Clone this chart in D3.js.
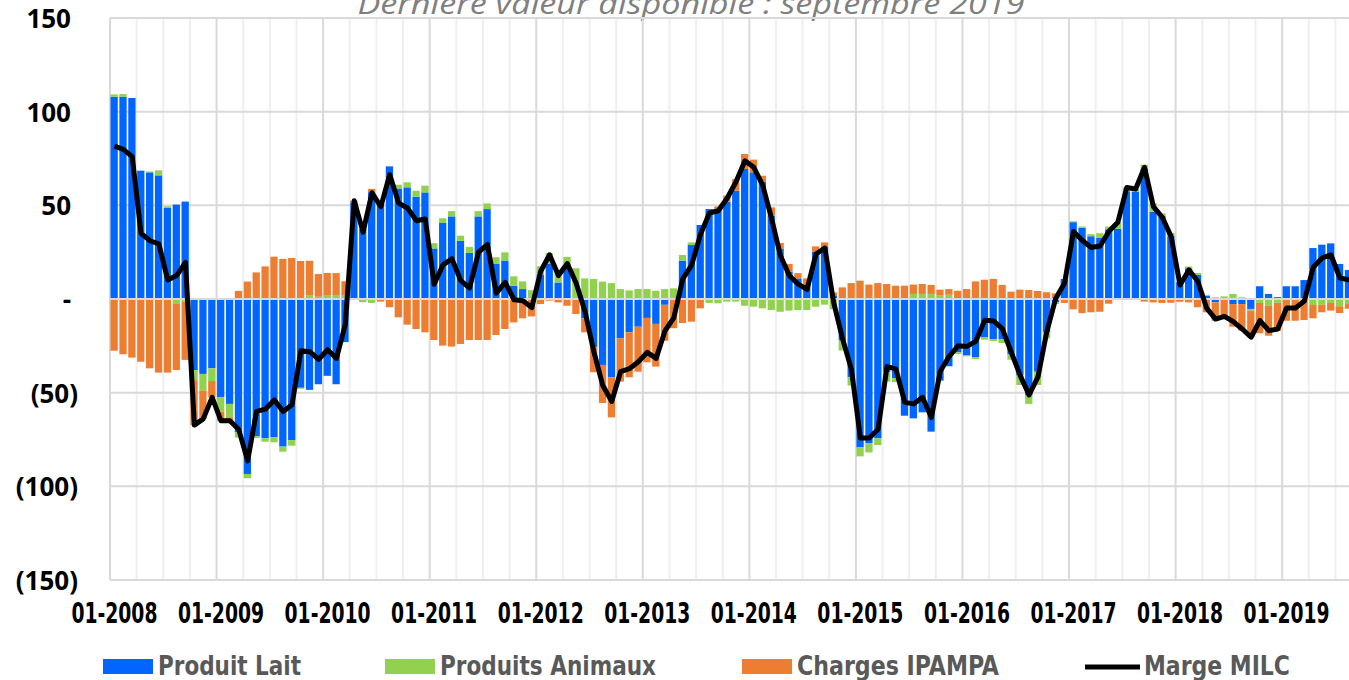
<!DOCTYPE html>
<html>
<head>
<meta charset="utf-8">
<script src="https://cdn.jsdelivr.net/npm/d3@7/dist/d3.min.js"></script>
<style>
  body { margin: 0; background: #fff; }
  svg { display: block; }
  .ylab text { font-family: "Open Sans", sans-serif; font-weight: 700; font-size: 26px; fill: #000; }
  .xlab text { font-family: "Liberation Sans Narrow", "DejaVu Sans Condensed", sans-serif; font-weight: 700; font-size: 28px; fill: #000; }
  .leg { font-family: "Liberation Sans Narrow", "DejaVu Sans Condensed", sans-serif; font-weight: 700; font-size: 26px; fill: #595959; }
  .title { font-family: "Open Sans", sans-serif; font-style: italic; font-size: 29px; fill: #7f7f7f; }
</style>
</head>
<body>
<svg id="chart" width="1349" height="680"></svg>
<script>
'use strict';

/* Data : janvier 2008 -> septembre 2019 (mensuel) */

var months = d3.timeMonth.range(new Date(2008, 0, 1), new Date(2019, 9, 1));

// Produit Lait
var lait = [
  108, 108, 107.3, 68.5, 67.6, 66, 48.6, 50.4, 52, -38, -40, -37,
  -52.5, -56, -71, -93.4, -73.3, -74.4, -73.8, -78.8, -75.3, -47.4, -48.5, -45.5,
  -41, -45.5, -23, 51.5, 37.4, 57, 50.7, 70.8, 59, 59.6, 54.6, 56.9,
  27, 40.6, 44.1, 31, 24.6, 44.1, 48, 18.7, 20.5, 7.1, 5.3, 0.3,
  13, 18.7, 8.8, 17.5, 0, -10.3, -25.8, -35.2, -41.8, -21, -17.8, -14.8,
  -10.1, -13.3, -3.1, -0.5, 20.5, 28.8, 39.5, 48, 48.2, 52, 57.8, 69.4,
  67.6, 62.6, 44.5, 26.7, 14.6, 11, 7.1, 25.3, 28.1, 2, -22.2, -41.8,
  -79.2, -76.9, -74.4, -39.1, -42.3, -62.3, -63.7, -60.5, -70.8, -43.6, -35.9, -28.5,
  -29.9, -31.1, -20.5, -21.4, -21.4, -29.4, -40.9, -51.6, -38.8, -17.8, -1.8, 10.7,
  41, 38, 33.5, 32.6, 37.2, 37.4, 57.5, 57.3, 69.4, 46.6, 44.5, 33.5,
  9, 16.4, 12.8, 1.8, -1.8, 0, -2.7, -2.7, -5.3, 6.8, 2.7, 1,
  6.8, 6.8, 10.1, 27.2, 29, 29.7, 18.7, 15.5, 14
];

// Produits Animaux
var animaux = [
  1.2, 1.4, 0, 0, 0.5, 2.7, 0.9, -2.3, -1.5, -5.3, -8.9, -6.8,
  -7.7, -7.1, -3, -2.3, -0.9, -1.8, -2.7, -2.7, -3, -0.5, 2.1, 1.2,
  1.8, 2.1, 1.8, 0, -1.2, -2.1, 0, 0, 2, 2.7, 3.2, 3.6,
  2.8, 2.5, 2.8, 2.8, 3.2, 2.8, 3, 3.6, 4.4, 5, 4.1, 4.4,
  4.5, 5.8, 5.5, 5, 16.4, 11, 10.7, 9.3, 8.5, 5.3, 4.6, 5.3,
  5.3, 4.4, 5.3, 5.7, 3, 1.4, 0, -2.1, -2.3, -1.4, -1.4, -3.6,
  -4.1, -5, -5.9, -6.8, -6.2, -5.9, -5.9, -4.1, -3, -5.5, -5.3, -4.4,
  -4.8, -5, -3.6, -5, -2.1, 0, 2.7, 2.7, 2.7, 1.8, 2.3, -0.9,
  -0.7, -0.9, -1.2, -1, -2.1, -3, -5, -4.4, -7.1, -3.2, -0.9, 0,
  0.5, 0.7, 1.1, 2.5, 1.5, 3.6, 2, 1.4, 2.3, 4.5, 1.2, 1.8,
  0, 0.9, 1.1, 0.4, 0.9, 1.4, 2.7, 0.9, -0.9, -2.1, -3.6, -2,
  0, 0, 0, -3.2, -3, -2.1, -3.9, -2.7, -2.5
];

// Charges IPAMPA
var charges = [
  -27.6, -29.5, -31.3, -33.5, -37, -39.3, -39.3, -35.6, -31, -24, -15.1, -8.7,
  -4.8, -1.9, 4.3, 9.3, 14.2, 17.4, 22.6, 21.4, 21.9, 20.3, 18.3, 12.1,
  12.1, 11.7, 7.7, 1, -0.5, 1.8, -1.4, -4.4, -9.8, -13.7, -16, -17.8,
  -21.9, -24.9, -25.4, -24, -21.9, -21.9, -21.9, -19.2, -16, -12.5, -10.3, -9.3,
  -2.7, -0.9, -1.8, -3.6, -8, -7.5, -13.3, -20.3, -21.4, -23.1, -24, -24,
  -23.7, -22.8, -19.2, -15.1, -12.8, -12.1, -5, 0, 1.2, 3.2, 6.2, 8,
  6.8, 3.2, 4.4, 3.2, 4.1, 2.8, 3.9, 2.8, 2.1, 1.5, 6.2, 8.5,
  9.8, 7.7, 8.5, 8, 7.1, 7.1, 5, 5.3, 4.8, 3.2, 3, 4.4,
  5.3, 9.4, 10.3, 10.7, 7.5, 3.9, 5, 4.8, 4.3, 3.6, 3, -2.1,
  -5.5, -7.5, -7.1, -6.8, -2.5, 0, 0, 0, -1.4, -1.8, -2.1, -2,
  -1.5, -1.8, -4.4, -7.1, -9.8, -10.7, -12.1, -14.2, -14.2, -16.2, -16, -15,
  -11.6, -11.6, -11.2, -7.1, -4.1, -4.1, -3.6, -2.5, -2
];

// Marge MILC
var marge = [
  81.6, 79.9, 76, 35, 31.1, 29.4, 10.2, 12.5, 19.5, -67.3, -64, -52.5,
  -65, -65, -69.7, -86.4, -60, -58.8, -53.9, -60.1, -56.4, -27.6, -28.1, -32.2,
  -27.1, -31.7, -13.5, 52.5, 35.7, 56.7, 49.3, 66.4, 51.2, 48.6, 41.8, 42.7,
  7.9, 18.2, 21.5, 9.8, 5.9, 25, 29.1, 3.1, 8.9, -0.4, -0.9, -4.6,
  14.8, 23.6, 12.5, 18.9, 8.4, -6.8, -28.4, -46.2, -54.7, -38.8, -37.2, -33.5,
  -28.5, -31.7, -17, -9.9, 10.7, 18.1, 34.5, 45.9, 47.1, 53.8, 62.6, 73.8,
  70.3, 60.8, 43, 23.1, 12.5, 7.9, 5.1, 24, 27.2, -2, -21.3, -37.7,
  -74.2, -74.2, -69.5, -36.1, -37.3, -55.2, -56, -52.5, -63.3, -38.6, -30.6, -25,
  -25.3, -22.6, -11.4, -11.7, -16, -28.5, -40.9, -51.2, -41.6, -17.4, 0.3, 8.6,
  36, 31.2, 27.5, 28.3, 36.2, 41, 59.5, 58.7, 70.3, 49.3, 43.6, 33.3,
  7.5, 15.5, 9.5, -4.9, -10.7, -9.3, -12.1, -16, -20.4, -11.5, -16.9, -16,
  -4.8, -4.8, -1.1, 16.9, 21.9, 23.5, 11.2, 10.3, 9.5
];

var yTicks = [150, 100, 50, 0, -50, -100, -150];
var yTickLabels = ['150', '100', '50', '-', '(50)', '(100)', '(150)'];
var xTickLabels = ['01-2008', '01-2009', '01-2010', '01-2011', '01-2012', '01-2013',
  '01-2014', '01-2015', '01-2016', '01-2017', '01-2018', '01-2019'];

var seriesNames = ['Produit Lait', 'Produits Animaux', 'Charges IPAMPA'];
var colors = ['#0066ff', '#92d050', '#ed7d31'];

/* Layout */

var svg = d3.select('#chart');
var plotLeft = 110, plotTop = 18, plotBottom = 580, step = 8.88;
var n = months.length;
var plotRight = plotLeft + n * step;

var x = d3.scaleBand().domain(d3.range(n)).range([plotLeft, plotRight]).padding(0);
var y = d3.scaleLinear().domain([-150, 150]).range([plotBottom, plotTop]);

// title (coupé en haut, comme l'original)
svg.append('text')
  .attr('class', 'title')
  .attr('x', 691).attr('y', 14)
  .attr('text-anchor', 'middle')
  .attr('textLength', 667)
  .attr('lengthAdjust', 'spacingAndGlyphs')
  .text('Dernière valeur disponible : septembre 2019');

//grid
var grid = svg.append('g');
d3.range(0, n + 1, 3).forEach(function (k) {
  var gx = plotLeft + k * step;
  grid.append('line')
    .attr('x1', gx).attr('x2', gx)
    .attr('y1', plotTop).attr('y2', plotBottom)
    .attr('stroke', k % 12 === 0 ? '#d9d9d9' : '#efefef')
    .attr('stroke-width', 2);
});
yTicks.forEach(function (t) {
  grid.append('line')
    .attr('x1', plotLeft).attr('x2', plotRight)
    .attr('y1', y(t)).attr('y2', y(t))
    .attr('stroke', '#d9d9d9')
    .attr('stroke-width', 2);
});

// bars
var rows = months.map(function (m, i) {
  return { i: i, lait: lait[i], animaux: animaux[i], charges: charges[i] };
});
var stacked = d3.stack()
  .keys(['lait', 'animaux', 'charges'])
  .offset(d3.stackOffsetDiverging)(rows);

svg.append('g').selectAll('g')
  .data(stacked).enter().append('g')
  .attr('fill', function (d, k) { return colors[k]; })
  .selectAll('rect')
  .data(function (d) { return d; }).enter().append('rect')
  .attr('x', function (d) { return x(d.data.i) + 0.5; })
  .attr('width', step - 1.6)
  .attr('y', function (d) { return y(Math.max(d[0], d[1])); })
  .attr('height', function (d) { return Math.abs(y(d[0]) - y(d[1])); });

// zero axis on top of the bars
svg.append('line')
  .attr('x1', plotLeft).attr('x2', plotRight)
  .attr('y1', y(0)).attr('y2', y(0))
  .attr('stroke', '#d9d9d9')
  .attr('stroke-width', 2);

// marge line
var line = d3.line()
  .x(function (d, i) { return x(i) + step / 2; })
  .y(function (d) { return y(d); });

svg.append('path')
  .datum(marge)
  .attr('d', line)
  .attr('fill', 'none')
  .attr('stroke', '#000')
  .attr('stroke-width', 5)
  .attr('stroke-linejoin', 'round');

// y axis
var yAxis = svg.append('g')
  .attr('class', 'ylab')
  .attr('transform', 'translate(' + plotLeft + ',0)')
  .call(d3.axisLeft(y).tickValues(yTicks).tickSize(0)
    .tickFormat(function (d, i) { return yTickLabels[i]; }));
yAxis.select('.domain').remove();
yAxis.selectAll('text')
  .attr('x', function (d) { return d < 0 ? -32 : -39; })
  .attr('dy', '0.36em');

// x axis
var janIdx = d3.range(0, n, 12);
var xAxis = svg.append('g')
  .attr('class', 'xlab')
  .attr('transform', 'translate(0,' + plotBottom + ')')
  .call(d3.axisBottom(x).tickValues(janIdx).tickSize(0)
    .tickFormat(function (d, i) { return xTickLabels[i]; }));
xAxis.select('.domain').remove();
xAxis.selectAll('text')
  .attr('y', 43).attr('dy', 0)
  .attr('textLength', 86)
  .attr('lengthAdjust', 'spacingAndGlyphs');

// legend
var legend = svg.append('g');
var legX = [103, 385, 742];
var legW = [143, 216, 202];
seriesNames.forEach(function (name, k) {
  legend.append('rect')
    .attr('x', legX[k]).attr('y', 659)
    .attr('width', 50).attr('height', 15)
    .attr('fill', colors[k]);
  legend.append('text')
    .attr('class', 'leg')
    .attr('x', legX[k] + 55).attr('y', 675)
    .attr('textLength', legW[k])
    .attr('lengthAdjust', 'spacingAndGlyphs')
    .text(name);
});
legend.append('line')
  .attr('x1', 1085).attr('x2', 1140)
  .attr('y1', 667).attr('y2', 667)
  .attr('stroke', '#000').attr('stroke-width', 5);
legend.append('text')
  .attr('class', 'leg')
  .attr('x', 1144).attr('y', 675)
  .attr('textLength', 146)
  .attr('lengthAdjust', 'spacingAndGlyphs')
  .text('Marge MILC');
</script>
</body>
</html>
